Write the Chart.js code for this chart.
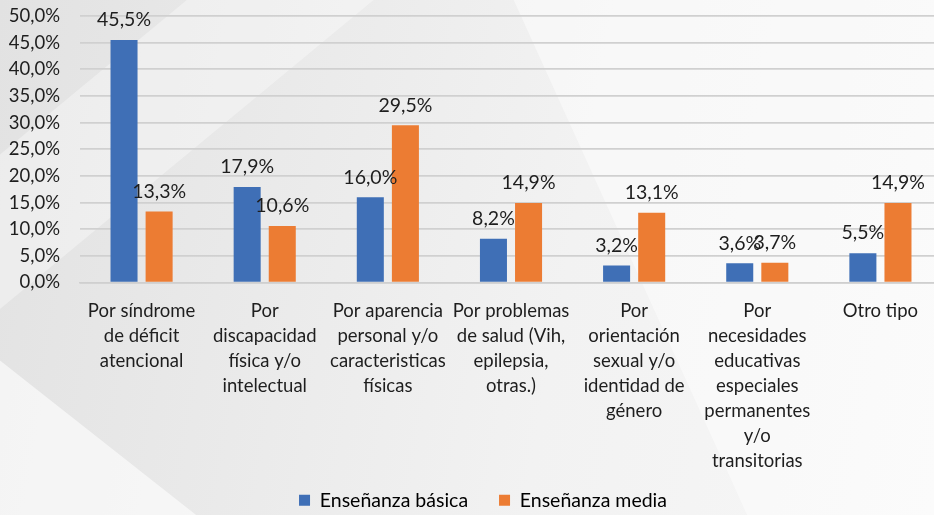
<!DOCTYPE html>
<html>
<head>
<meta charset="utf-8">
<script src="https://cdn.jsdelivr.net/npm/chart.js@4.4.0/dist/chart.umd.min.js"></script>
<style>
  html, body { margin: 0; padding: 0; width: 934px; height: 515px; overflow: hidden; }
  body {
    position: relative;
    background: linear-gradient(100deg, #e2e2e2 0%, #eaeaea 30%, #f2f2f2 60%, #f7f7f7 100%);
  }
  .shape { position: absolute; inset: 0; pointer-events: none; }
  .s1 { background: rgba(255,255,255,0.6); clip-path: polygon(0 70%, 0 100%, 21% 100%); }
  .s2 { background: rgba(255,255,255,0.35); clip-path: polygon(0 30%, 0 60%, 40% 0, 20% 0); }
  .s3 { background: rgba(255,255,255,0.45); clip-path: polygon(55% 0, 100% 0, 100% 100%, 80% 100%); }
  #wrap { position: absolute; left: 0; top: 0; width: 942px; height: 515px; }
</style>
</head>
<body>
<div class="shape s1"></div>
<div class="shape s2"></div>
<div class="shape s3"></div>
<div id="wrap"><canvas id="c"></canvas></div>
<script>
const categories = [
  ["Por síndrome", "de déficit", "atencional"],
  ["Por", "discapacidad", "física y/o", "intelectual"],
  ["Por aparencia", "personal y/o", "caracteristicas", "físicas"],
  ["Por problemas", "de salud (Vih,", "epilepsia,", "otras.)"],
  ["Por", "orientación", "sexual y/o", "identidad de", "género"],
  ["Por", "necesidades", "educativas", "especiales", "permanentes", "y/o", "transitorias"],
  ["Otro tipo"]
];
const seriesNames = ["Enseñanza básica", "Enseñanza media"];
const basica = [45.5, 17.9, 16.0, 8.2, 3.2, 3.6, 5.5];
const media = [13.3, 10.6, 29.5, 14.9, 13.1, 3.7, 14.9];
const yMin = 0, yMax = 50, yStep = 5;

const FONT = "Lato, 'Open Sans', sans-serif";
const fmt = v => v.toFixed(1).replace('.', ',') + '%';

const dataLabels = {
  id: 'dataLabels',
  afterDatasetsDraw(chart) {
    const ctx = chart.ctx;
    ctx.save();
    ctx.font = "19.5px " + FONT;
    ctx.fillStyle = '#1e1e1e';
    ctx.textAlign = 'center';
    ctx.textBaseline = 'middle';
    chart.data.datasets.forEach((ds, i) => {
      const meta = chart.getDatasetMeta(i);
      meta.data.forEach((el, j) => {
        ctx.fillText(fmt(ds.data[j]), el.x, el.y - 20);
      });
    });
    ctx.restore();
  }
};

const legendShift = {
  id: 'legendShift',
  afterLayout(chart) {
    const lg = chart.legend;
    if (!lg) return;
    lg.left += 12; lg.right += 12;
    lg.top += 5; lg.bottom += 5;
  }
};

new Chart(document.getElementById('c'), {
  type: 'bar',
  data: {
    labels: categories,
    datasets: [
      { label: seriesNames[0], data: basica, backgroundColor: '#3f6fb6', categoryPercentage: 0.57, barPercentage: 0.77 },
      { label: seriesNames[1], data: media, backgroundColor: '#ec7c33', categoryPercentage: 0.57, barPercentage: 0.77 }
    ]
  },
  options: {
    responsive: true,
    maintainAspectRatio: false,
    animation: false,
    devicePixelRatio: 1,
    layout: { padding: { top: 16, left: 0, right: 0, bottom: 0 } },
    plugins: {
      legend: {
        position: 'bottom',
        labels: {
          font: { family: FONT, size: 19.5 },
          color: '#1e1e1e',
          boxWidth: 11,
          boxHeight: 11,
          padding: 6,
          generateLabels(chart) {
            return chart.data.datasets.map((ds, i) => ({
              text: ds.label + (i === 0 ? '     ' : ''),
              fillStyle: ds.backgroundColor,
              strokeStyle: ds.backgroundColor,
              lineWidth: 0,
              datasetIndex: i,
              hidden: false
            }));
          }
        }
      },
      tooltip: { enabled: false }
    },
    scales: {
      x: {
        grid: { display: false, drawTicks: false },
        border: { display: true, color: '#cfcfcf', width: 1.5 },
        ticks: {
          font: { family: FONT, size: 18.5, lineHeight: 1.35 },
          color: '#1e1e1e',
          padding: 16,
          maxRotation: 0,
          autoSkip: false
        },
        afterFit(scale) { scale.height = 197; }
      },
      y: {
        min: yMin, max: yMax,
        grid: { color: '#d0d0d0', lineWidth: 1.7, drawTicks: false },
        border: { display: false },
        ticks: {
          stepSize: yStep,
          autoSkip: false,
          font: { family: FONT, size: 18.5 },
          color: '#1e1e1e',
          padding: 20,
          callback: v => fmt(v)
        },
        afterFit(scale) { scale.width = 80; scale.paddingTop = 0; scale.paddingBottom = 0; }
      }
    }
  },
  plugins: [dataLabels, legendShift]
});
</script>
</body>
</html>
